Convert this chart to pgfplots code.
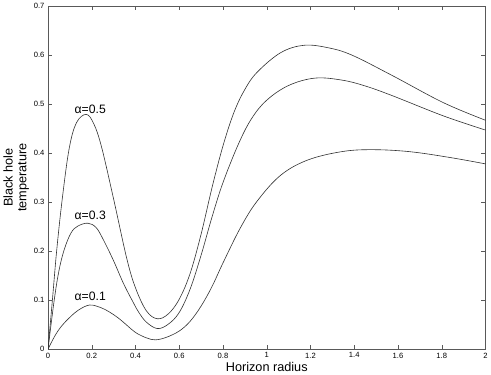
\documentclass[border=0pt]{standalone}
\usepackage{fontspec}
\setmainfont{Liberation Sans}
\usepackage{pgfplots}
\pgfplotsset{compat=1.18}

\begin{document}
\begin{tikzpicture}
\begin{axis}[
    scale only axis,
    width=431pt, height=338pt,
    xmin=0, xmax=2, ymin=0, ymax=0.7,
    xtick={0,0.2,...,2}, ytick={0,0.1,...,0.7},
    tick align=inside,
    major tick length=4pt,
    axis line style={black!65, line width=0.9pt},
    every tick/.style={black!65, line width=0.5pt},
    /pgf/number format/assume math mode=true,
    tick label style={font=\fontsize{7.5}{9}\selectfont},
    xlabel={Horizon radius},
    ylabel={Black hole\\temperature},
    label style={font=\fontsize{12.5}{13.5}\selectfont},
    ylabel style={align=center, yshift=-2pt},
    xlabel style={yshift=3pt},
]
% alpha = 0.5
\addplot[black!80, line width=0.6pt, no markers, smooth, tension=0.6] coordinates {
(0,0)(0.02,0.10)(0.04,0.203)(0.066,0.31)(0.097,0.41)(0.13,0.462)
(0.175,0.479)(0.21,0.459)(0.245,0.412)(0.3,0.306)(0.36,0.185)
(0.4,0.125)(0.45,0.078)(0.5,0.062)(0.55,0.072)(0.6,0.102)
(0.65,0.155)(0.7,0.235)(0.75,0.33)(0.8,0.415)(0.85,0.483)
(0.9,0.53)(0.956,0.565)(1.064,0.605)(1.17,0.62)(1.28,0.615)
(1.389,0.6)(1.575,0.558)(1.807,0.503)(2,0.467)};
% alpha = 0.3
\addplot[black!80, line width=0.6pt, no markers, smooth, tension=0.6] coordinates {
(0,0)(0.028,0.099)(0.05,0.16)(0.074,0.203)(0.105,0.237)(0.136,0.251)
(0.182,0.257)(0.22,0.248)(0.252,0.224)(0.298,0.182)(0.345,0.134)
(0.39,0.095)(0.415,0.075)(0.45,0.055)(0.5,0.042)(0.55,0.051)
(0.6,0.075)(0.65,0.123)(0.7,0.192)(0.75,0.27)(0.8,0.34)
(0.87,0.418)(0.93,0.47)(1.0,0.508)(1.1,0.538)(1.22,0.553)
(1.343,0.549)(1.45,0.537)(1.575,0.517)(1.807,0.476)(2,0.447)};
% alpha = 0.1
\addplot[black!80, line width=0.6pt, no markers, smooth, tension=0.6] coordinates {
(0,0)(0.03,0.026)(0.06,0.046)(0.1,0.065)(0.14,0.08)
(0.19,0.09)(0.24,0.085)(0.28,0.076)(0.32,0.064)(0.36,0.049)
(0.4,0.034)(0.45,0.023)(0.49,0.019)(0.54,0.024)(0.6,0.037)
(0.65,0.057)(0.7,0.088)(0.75,0.128)(0.8,0.176)(0.88,0.248)
(0.956,0.302)(1.064,0.355)(1.188,0.386)(1.343,0.403)(1.48,0.407)
(1.652,0.403)(1.838,0.391)(2,0.378)};
\node[font=\fontsize{12}{13}\selectfont] at (axis cs:0.193,0.489) {α=0.5};
\node[font=\fontsize{12}{13}\selectfont] at (axis cs:0.193,0.273) {α=0.3};
\node[font=\fontsize{12}{13}\selectfont] at (axis cs:0.193,0.108) {α=0.1};
\end{axis}
\end{tikzpicture}
\end{document}
